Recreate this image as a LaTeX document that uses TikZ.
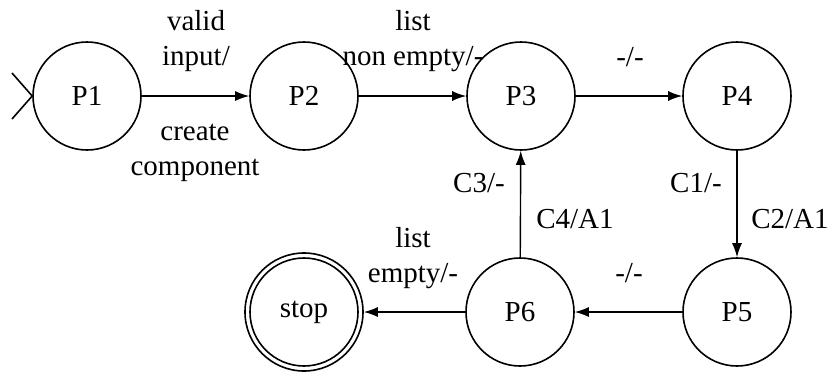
\documentclass[tikz,border=0pt]{standalone}
\usepackage{fontspec}
\setmainfont{Liberation Serif}
\usetikzlibrary{arrows.meta}
\begin{document}
\begin{tikzpicture}[x=1pt,y=-1pt,
  state/.style={circle,draw,line width=1.6pt,minimum size=108pt,inner sep=0pt,font=\fontsize{29}{35}\selectfont},
  trans/.style={-{Latex[length=14pt,width=10pt]},line width=1.4pt},
  lbl/.style={font=\fontsize{29}{35}\selectfont,align=center,inner sep=0pt,anchor=base}]
\useasboundingbox (0,0) rectangle (831,373);
\node[state] (P1) at (87,96) {P1};
\node[state] (P2) at (304,96) {P2};
\node[state] (P3) at (521,96) {P3};
\node[state] (P4) at (737,96) {P4};
\node[state] (P5) at (737,312) {P5};
\node[state] (P6) at (520,312) {P6};
\node[state,minimum size=118pt] (stop) at (304,312) {stop};
\draw[line width=1.6pt] (stop.center) circle[radius=54pt];
% entry mark
\coordinate (e1) at (12,73);
\coordinate (e2) at (12,119);
\draw[line width=1.6pt] (e1) -- (P1.west) -- (e2);
% transitions
\draw[trans] (P1) -- (P2);
\draw[trans] (P2) -- (P3);
\draw[trans] (P3) -- (P4);
\draw[trans] (P4) -- (P5);
\draw[trans] (P5) -- (P6);
\draw[trans] (P6) -- (P3);
\draw[trans] (P6) -- (stop);
% labels (anchor base = last line baseline)
\node[lbl] (l1) at (196,65) {valid\\input/};
\node[lbl] (l2) at (195,175) {create\\component};
\node[lbl] (l3) at (413,65) {list\\non empty/-};
\node[lbl] (l4) at (630,66) {-/-};
\node[lbl] (l5) at (696,192) {C1/-};
\node[lbl] (l6) at (790,228) {C2/A1};
\node[lbl] (l7) at (479,192) {C3/-};
\node[lbl] (l8) at (575,228) {C4/A1};
\node[lbl] (l9) at (629,282) {-/-};
\node[lbl] (l10) at (413,282) {list\\empty/-};
\end{tikzpicture}
\end{document}
